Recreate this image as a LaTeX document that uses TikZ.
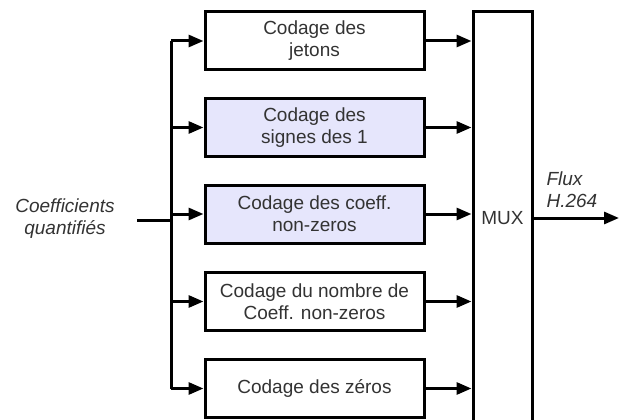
\documentclass[tikz,border=0pt]{standalone}
\usepackage{fontspec}
\setmainfont{Liberation Sans}
\usetikzlibrary{arrows.meta, positioning, calc}
\definecolor{txtgray}{RGB}{51,51,51}
\definecolor{lavfill}{RGB}{230,230,252}

\tikzset{
    codbox/.style={draw=black, line width=3pt, fill=white, minimum width=219pt,
        minimum height=58pt, align=center, text=txtgray, inner sep=2pt,
        font=\fontsize{19}{22}\selectfont},
    hlbox/.style={codbox, fill=lavfill},
    wire/.style={line width=3pt, -{Triangle[length=15pt,width=12pt]}},
    plain/.style={line width=3pt},
    lbl/.style={text=txtgray, font=\fontsize{19}{22}\selectfont\itshape}
}

\begin{document}
\begin{tikzpicture}[x=1pt, y=-1pt]
    \useasboundingbox (0,0) rectangle (622,420);

    % coding stages
    \node[codbox] (jet) at (314.5,41)   {Codage des\\jetons};
    \node[hlbox]  (sgn) at (314.5,127.5) {Codage des\\signes des 1};
    \node[hlbox]  (nzc) at (314.5,214)  {Codage des coeff.\\non-zeros};
    \node[codbox] (nbr) at (314.5,301.5) {Codage du nombre de\\Coeff. non-zeros};
    \node[codbox] (zer) at (314.5,388.5) {Codage des z\'eros};

    % multiplexer
    \node[draw, line width=3pt, minimum width=59pt, minimum height=430pt] (mux) at (502.5,227) {};
    \node[text=txtgray, font=\fontsize{19}{22}\selectfont] (muxlbl) at (502.5,218) {MUX};

    % input and fan-out
    \coordinate (in) at (137,220);
    \coordinate (split) at (171,220);
    \node[lbl, align=center] (coef) at (65,219) {Coefficients\\quantifi\'es};
    \draw[plain] (in) -- (split);
    \draw[plain] (split |- jet) -- (split |- zer);
    \foreach \b in {jet,sgn,nzc,nbr,zer} {
        \draw[wire] (split |- \b) -- (\b.west);
        \draw[wire] (\b.east) -- (\b.east -| mux.west);
    }

    % output stream
    \coordinate (out) at (619,218);
    \draw[wire] (mux.east |- muxlbl) -- (out);
    \node[lbl, align=left, anchor=south west] (flux) at (543,211) {Flux\\H.264};
\end{tikzpicture}
\end{document}
